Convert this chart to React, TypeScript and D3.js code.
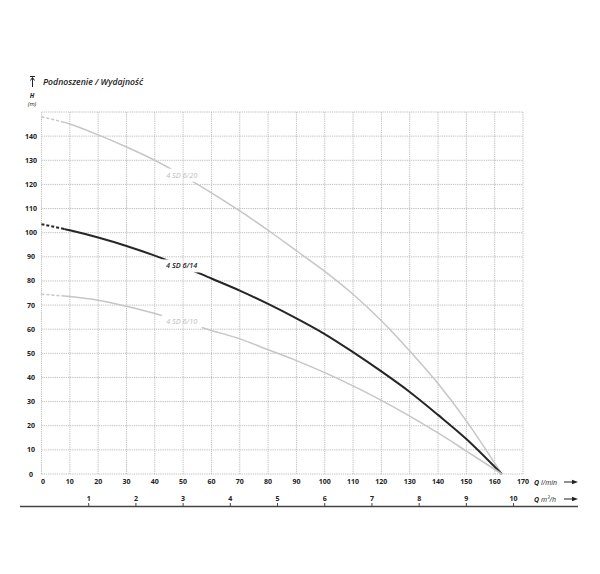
import React from "react";
import * as d3 from "d3";

const flowLmin = [0, 10, 20, 30, 40, 50, 60, 70, 80, 90, 100, 110, 120, 130, 140, 150, 162.5];
const head620 = [148, 145, 140.5, 135.5, 130, 123.5, 116.5, 109, 101, 92.5, 84, 74.5, 63.5, 51, 37.5, 22, 0];
const head614 = [103.5, 101, 98, 94.5, 90.5, 86, 81, 76, 70.5, 64.5, 58, 50.5, 42.5, 34, 24.5, 14.5, 0];
const head610 = [74.5, 73.5, 72, 69.5, 66.5, 63, 59.5, 56, 51.5, 47, 42, 36.5, 30.5, 24, 17, 9.5, 0];
const seriesNames = ["4 SD 6/20", "4 SD 6/14", "4 SD 6/10"];
const xTicks = d3.range(0, 171, 10);
const yTicks = d3.range(0, 151, 10);
const m3hTicks = [1, 2, 3, 4, 5, 6, 7, 8, 9, 10];

if (typeof document !== "undefined") document.body.style.margin = "0";

const W = 600, H = 574;
const x = d3.scaleLinear().domain([0, 170]).range([41.5, 523]);
const y = d3.scaleLinear().domain([0, 150]).range([474, 112]);
const xM3 = (v: number) => x((v * 1000) / 60);

const line = d3
  .line<[number, number]>()
  .x((d) => x(d[0]))
  .y((d) => y(d[1]))
  .curve(d3.curveCatmullRom.alpha(0.5));

const FONT = "'Open Sans', 'DejaVu Sans', sans-serif";

export default function App() {
  const series = [
    { name: seriesNames[0], vals: head620, color: "#c6c6c6", width: 1.5, textColor: "#bdbdbd", weight: 400 },
    { name: seriesNames[1], vals: head614, color: "#262626", width: 2, textColor: "#222", weight: 600 },
    { name: seriesNames[2], vals: head610, color: "#c6c6c6", width: 1.5, textColor: "#bdbdbd", weight: 400 },
  ];
  const labelQ = 49.5;
  const interp = (vals: number[], q: number) => {
    const i = d3.bisectRight(flowLmin, q) - 1;
    const t = (q - flowLmin[i]) / (flowLmin[i + 1] - flowLmin[i]);
    return vals[i] + t * (vals[i + 1] - vals[i]);
  };
  const labels = series.map((s) => ({ cx: x(labelQ), cy: y(interp(s.vals, labelQ)) }));
  const dashEnd = x(8);

  return (
    <svg width={W} height={H} style={{ display: "block", background: "#fff" }} fontFamily={FONT}>
      <defs>
        <clipPath id="dashClip">
          <rect x={0} y={0} width={dashEnd} height={H} />
        </clipPath>
        <clipPath id="solidClip">
          <rect x={dashEnd} y={0} width={W - dashEnd} height={H} />
        </clipPath>
        <mask id="labelMask" maskUnits="userSpaceOnUse" x={0} y={0} width={W} height={H}>
          <rect x={0} y={0} width={W} height={H} fill="#fff" />
          {labels.map((l, i) => (
            <rect key={i} x={l.cx - 20} y={l.cy - 6.5} width={40} height={13} fill="#000" />
          ))}
        </mask>
      </defs>
      <rect x={0} y={0} width={W} height={H} fill="#fff" />

      {/* grid */}
      <g stroke="#bcbcbc" strokeWidth={1} strokeDasharray="1.2,1">
        {xTicks.map((t) => (
          <line key={"gx" + t} x1={x(t)} x2={x(t)} y1={y(150)} y2={y(0)} />
        ))}
        {yTicks.map((t) => (
          <line key={"gy" + t} x1={x(0)} x2={x(170)} y1={y(t)} y2={y(t)} />
        ))}
      </g>

      {/* curves */}
      <g mask="url(#labelMask)">
        {series.map((s, i) => {
          const pts = flowLmin.map((q, j) => [q, s.vals[j]] as [number, number]);
          const d = line(pts) || "";
          return (
            <g key={i} fill="none" stroke={s.color} strokeWidth={s.width}>
              <path d={d} clipPath="url(#dashClip)" strokeDasharray="3,2" />
              <path d={d} clipPath="url(#solidClip)" />
            </g>
          );
        })}
      </g>
      {series.map((s, i) => (
        <text
          key={"lab" + i}
          x={labels[i].cx}
          y={labels[i].cy + 2.5}
          textAnchor="middle"
          fontSize={7.3}
          fontStyle="italic"
          fontWeight={s.weight}
          fill={s.textColor}
        >
          {s.name}
        </text>
      ))}

      {/* y tick labels */}
      <g fontSize={7} fontWeight={700} fill="#222" textAnchor="middle">
        {yTicks.filter((t) => t < 150).map((t) => (
          <text key={"yl" + t} x={31} y={y(t) + 2.5}>
            {t}
          </text>
        ))}
      </g>
      {/* x tick labels l/min */}
      <g fontSize={7} fontWeight={700} fill="#222" textAnchor="middle">
        {xTicks.map((t) => (
          <text key={"xl" + t} x={x(t) + (t === 0 ? 1.5 : 0)} y={484}>
            {t}
          </text>
        ))}
      </g>
      {/* m3/h axis */}
      <line x1={20} x2={578} y1={506.5} y2={506.5} stroke="#444" strokeWidth={1.4} />
      <g fontSize={7} fontWeight={700} fill="#222" textAnchor="middle">
        {m3hTicks.map((t) => (
          <g key={"m" + t}>
            <text x={xM3(t)} y={501}>
              {t}
            </text>
            <line x1={xM3(t)} x2={xM3(t)} y1={503} y2={506} stroke="#444" strokeWidth={1} />
          </g>
        ))}
      </g>

      {/* axis unit labels */}
      <text x={534} y={484.5} fontSize={7} fill="#222">
        <tspan fontWeight={700} fontStyle="italic">Q </tspan>
        <tspan fontStyle="italic">l/min</tspan>
      </text>
      <text x={534} y={501.5} fontSize={7} fill="#222">
        <tspan fontWeight={700} fontStyle="italic">Q </tspan>
        <tspan fontStyle="italic">m³/h</tspan>
      </text>
      {[482, 499].map((yy) => (
        <g key={"arr" + yy}>
          <line x1={564} x2={575} y1={yy} y2={yy} stroke="#222" strokeWidth={1} />
          <path d={`M578,${yy} L572,${yy - 2.2} L572,${yy + 2.2} Z`} fill="#222" />
        </g>
      ))}

      {/* title */}
      <g stroke="#222" strokeWidth={1} fill="none">
        <line x1={30} x2={35} y1={76.5} y2={76.5} />
        <line x1={32.5} x2={32.5} y1={78} y2={87} />
        <path d="M30.5,80.5 L32.5,77.5 L34.5,80.5" />
      </g>
      <text
        x={43}
        y={84.5}
        fontSize={9.5}
        fontStyle="italic"
        fontWeight={600}
        fill="#222"
        textLength={100}
        lengthAdjust="spacingAndGlyphs"
      >
        Podnoszenie / Wydajność
      </text>
      <text x={32} y={98} fontSize={6.5} fontStyle="italic" fontWeight={700} fill="#222" textAnchor="middle">
        H
      </text>
      <text x={32} y={106} fontSize={6} fontStyle="italic" fill="#222" textAnchor="middle">
        (m)
      </text>
    </svg>
  );
}
